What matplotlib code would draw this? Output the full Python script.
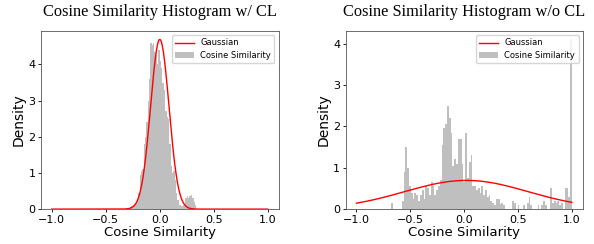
import numpy as np
import matplotlib
matplotlib.use('Agg')
import matplotlib.pyplot as plt

# ---- data ----
# with CL: histogram (density), bins start at -0.30, width 0.0125
cl_start = -0.30
cl_width = 0.0125
cl_heights = [0.02, 0.03, 0.05, 0.08, 0.10, 0.12, 0.18, 0.25, 0.45, 0.95,
              1.05, 1.10, 1.80, 2.00, 2.40, 3.00, 3.60, 4.60, 4.55, 4.60,
              4.35, 4.25, 4.00, 4.40, 4.10, 3.90, 3.50, 3.30, 2.70, 2.55,
              2.50, 1.80, 1.20, 1.00, 1.05, 0.80, 0.45, 0.25, 0.12, 0.10,
              0.08, 0.10, 0.15, 0.30, 0.35, 0.30, 0.35, 0.40, 0.30, 0.20,
              0.10]
cl_mu, cl_sigma = 0.0, 0.085

# without CL: bins start at -0.68, width 0.0168
nocl_start = -0.68
nocl_width = 0.0168
nocl_heights = [0.15, 0, 0, 0, 0, 0, 0.2, 0.9, 1.5, 1.0,
                0.55, 0.38, 0.25, 0.4, 0.35, 0.2, 0.35, 0.45, 0.25, 0.55,
                0.5, 0.35, 0.65, 0.55, 0.35, 0.45, 0.55, 0.7, 1.55, 1.95,
                2.05, 2.5, 2.2, 1.85, 1.05, 1.2, 1.1, 1.7, 1.7, 1.1,
                0.65, 1.85, 0.75, 1.15, 1.3, 0.55, 0.55, 0.45, 0.5, 0.4,
                0.55, 0.35, 0.45, 0.3, 0.35, 0.2, 0.15, 0.1, 0.25, 0.25,
                0.12, 0.15, 0.1, 0, 0, 0, 0, 0.2, 0.15, 0,
                0.1, 0, 0, 0.1, 0, 0.15, 0.3, 0.1, 0, 0,
                0, 0.1, 0, 0.1, 0.2, 0.1, 0, 0, 0.5, 0.15,
                0.2, 0.15, 0.2, 0.1, 0.15, 0, 0.5, 0.5, 0.3, 4.1]
nocl_mu, nocl_sigma = 0.02, 0.575

titles = ['Cosine Similarity Histogram w/ CL', 'Cosine Similarity Histogram w/o CL']


def gauss(x, mu, sigma):
    return np.exp(-(x - mu) ** 2 / (2 * sigma ** 2)) / (sigma * np.sqrt(2 * np.pi))


fig = plt.figure(figsize=(5.94, 2.44), dpi=100)
ax1 = fig.add_axes([0.069, 0.143, 0.400, 0.730])
ax2 = fig.add_axes([0.582, 0.143, 0.399, 0.730])

panels = [(ax1, cl_start, cl_width, cl_heights, cl_mu, cl_sigma),
          (ax2, nocl_start, nocl_width, nocl_heights, nocl_mu, nocl_sigma)]

for (ax, start, width, heights, mu, sigma), title in zip(panels, titles):
    lefts = start + width * np.arange(len(heights))
    ax.bar(lefts, heights, width=width, align='edge', color='gray', alpha=0.5,
           linewidth=0, label='Cosine Similarity')
    xs = np.linspace(-1, 1, 400)
    ax.plot(xs, gauss(xs, mu, sigma), color='red', linewidth=1.0, label='Gaussian')
    ax.set_xticks([-1.0, -0.5, 0.0, 0.5, 1.0])
    ax.set_yticks([0, 1, 2, 3, 4])
    ax.tick_params(labelsize=8, length=2.5, width=0.6, pad=1.5)
    ax.set_xlabel('Cosine Similarity', fontsize=9.5, labelpad=1)
    ax.set_ylabel('Density', fontsize=10, labelpad=2)
    for s in ax.spines.values():
        s.set_linewidth(0.6)
        s.set_color('#555555')
    ax.legend(loc='upper right', fontsize=6, frameon=True, handlelength=2.2,
              borderpad=0.4, labelspacing=0.4)
    pos = ax.get_position()
    fig.text((pos.x0 + pos.x1) / 2, 0.985, title,
             ha='center', va='top', fontsize=11.8, family='Liberation Serif')

fig.savefig('out.png', dpi=100)
